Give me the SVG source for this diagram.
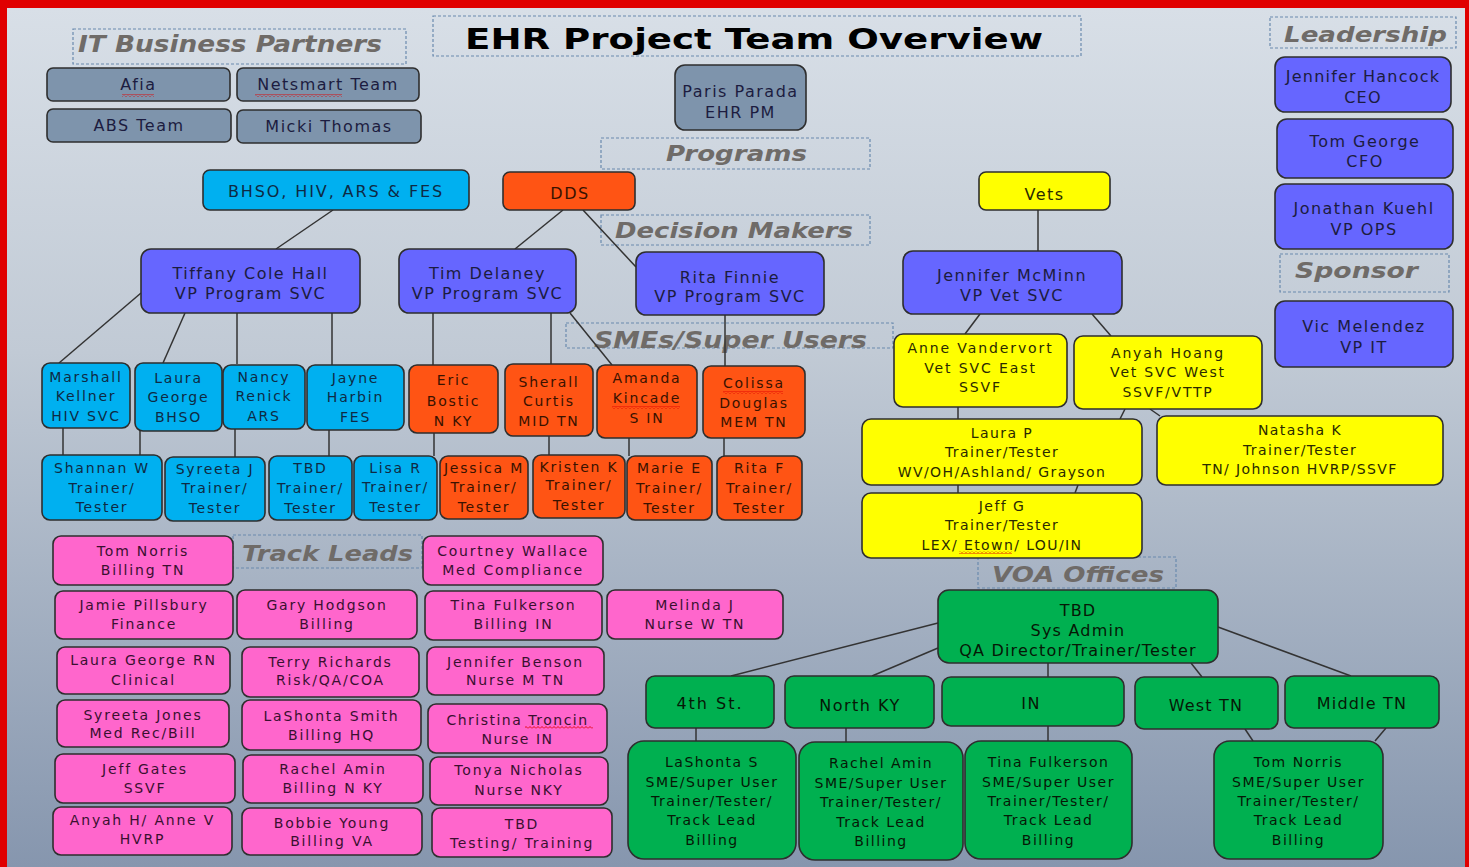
<svg xmlns="http://www.w3.org/2000/svg" width="1469" height="867" viewBox="0 0 1469 867">
<defs>
<linearGradient id="bg" x1="0" y1="0" x2="0" y2="1">
<stop offset="0" stop-color="#d8dfe7"/>
<stop offset="0.4" stop-color="#c1cad5"/>
<stop offset="1" stop-color="#8696ae"/>
</linearGradient>
<pattern id="squig" width="4" height="3" patternUnits="userSpaceOnUse">
<polyline points="0,2.5 2,0.5 4,2.5" fill="none" stroke="#e00000" stroke-width="0.9"/>
</pattern>
</defs>
<style>
.b{stroke:#2e2e2e;stroke-width:1.6}
.gray{fill:#7e94ac}
.cyan{fill:#00b0f0}
.org{fill:#ff5414}
.yel{fill:#ffff00}
.pur{fill:#6666ff}
.pink{fill:#ff66cc}
.grn{fill:#00b050}
.dash{fill:none;stroke:#6a8aae;stroke-width:1.2;stroke-dasharray:3 2}
.sec{font-family:"DejaVu Sans",Verdana,sans-serif;font-weight:bold;font-style:italic;fill:#6f6b68}
text{font-family:"DejaVu Sans",Verdana,sans-serif;text-anchor:middle}
.t16{font-size:16px;letter-spacing:1.5px}
.t14{font-size:14px;letter-spacing:1.8px}
.tg{font-size:14px;letter-spacing:1.5px}
.dk{fill:#1c1c40}
.dc{fill:#0e2a44}
.do{fill:#3a1200}
.dy{fill:#2a2a00}
.dp{fill:#3a1030}
.dg{fill:#061806}
.conn{stroke:#333;stroke-width:1.5;fill:none}
</style>
<rect x="0" y="0" width="1469" height="867" fill="#e00000"/>
<rect x="7" y="8" width="1458" height="859" fill="url(#bg)"/>

<g id="labels">
<rect class="dash" x="433" y="16" width="648" height="40"/>
<text x="465" y="49" style="text-anchor:start;font-family:'DejaVu Sans',Verdana,sans-serif;font-weight:bold;font-size:29px;fill:#000" textLength="578" lengthAdjust="spacingAndGlyphs">EHR Project Team Overview</text>
<rect class="dash" x="73" y="29" width="333" height="35"/>
<text class="sec" x="78" y="52" style="text-anchor:start;font-size:23px" textLength="304" lengthAdjust="spacingAndGlyphs">IT Business Partners</text>
<rect class="dash" x="601" y="138" width="269" height="31"/>
<text class="sec" x="666" y="161" style="text-anchor:start;font-size:22px" textLength="141" lengthAdjust="spacingAndGlyphs">Programs</text>
<rect class="dash" x="601" y="215" width="269" height="30"/>
<text class="sec" x="615" y="238" style="text-anchor:start;font-size:22px" textLength="238" lengthAdjust="spacingAndGlyphs">Decision Makers</text>
<rect class="dash" x="1270" y="17" width="186" height="31"/>
<text class="sec" x="1284" y="42" style="text-anchor:start;font-size:22px" textLength="163" lengthAdjust="spacingAndGlyphs">Leadership</text>
<rect class="dash" x="1280" y="254" width="169" height="38"/>
<text class="sec" x="1295" y="278" style="text-anchor:start;font-size:22px" textLength="123" lengthAdjust="spacingAndGlyphs">Sponsor</text>
<rect class="dash" x="566" y="323" width="327" height="25"/>
<text class="sec" x="594" y="348" style="text-anchor:start;font-size:23px" textLength="273" lengthAdjust="spacingAndGlyphs">SMEs/Super Users</text>
<rect class="dash" x="233" y="535" width="189" height="33"/>
<text class="sec" x="242" y="561" style="text-anchor:start;font-size:22px" textLength="171" lengthAdjust="spacingAndGlyphs">Track Leads</text>
<rect class="dash" x="978" y="557" width="198" height="31"/>
<text class="sec" x="992" y="582" style="text-anchor:start;font-size:22px" textLength="172" lengthAdjust="spacingAndGlyphs">VOA Offices</text>
</g>

<g id="connectors" class="conn">
<path d="M333,210 L276,249"/>
<path d="M141,293 L59,363"/>
<path d="M185,313 L163,363"/>
<path d="M237,313 L237,364"/>
<path d="M332,313 L332,365"/>
<path d="M63,428 L63,455"/>
<path d="M140,431 L140,455"/>
<path d="M235,429 L235,457"/>
<path d="M329,430 L329,456"/>
<path d="M563,210 L515,249"/>
<path d="M583,210 L636,267"/>
<path d="M433,313 L433,365"/>
<path d="M551,313 L551,364"/>
<path d="M570,313 L612,365"/>
<path d="M725,315 L725,366"/>
<path d="M434,433 L434,456"/>
<path d="M549,436 L549,455"/>
<path d="M629,438 L629,456"/>
<path d="M724,438 L724,456"/>
<path d="M1038,210 L1038,251"/>
<path d="M980,314 L965,334"/>
<path d="M1092,314 L1111,336"/>
<path d="M958,407 L958,419"/>
<path d="M1125,409 L1120,419"/>
<path d="M1150,409 L1160,416"/>
<path d="M958,485 L958,493"/>
<path d="M1078,485 L1075,493"/>
<path d="M938,623 L731,676"/>
<path d="M938,648 L872,676"/>
<path d="M1048,663 L1048,677"/>
<path d="M1191,663 L1202,677"/>
<path d="M1218,627 L1351,676"/>
<path d="M696,728 L696,741"/>
<path d="M846,728 L846,742"/>
<path d="M1048,726 L1048,741"/>
<path d="M1245,729 L1253,741"/>
<path d="M1386,728 L1375,741"/>
</g>

<g id="afia"><rect class="b gray" x="47" y="68" width="183" height="33" rx="6"/><text class="t16 dk" x="138.5" y="90">Afia</text></g>
<g id="netsmart"><rect class="b gray" x="237" y="68" width="182" height="33" rx="6"/><text class="t16 dk" x="328" y="90">Netsmart Team</text></g>
<g id="abs"><rect class="b gray" x="47" y="109" width="184" height="33" rx="6"/><text class="t16 dk" x="139" y="131">ABS Team</text></g>
<g id="micki"><rect class="b gray" x="237" y="110" width="184" height="33" rx="6"/><text class="t16 dk" x="329" y="132">Micki Thomas</text></g>
<g id="paris"><rect class="b gray" x="675" y="65" width="131" height="65" rx="10"/><text class="t16 dk" x="740.5" y="97">Paris Parada<tspan x="740.5" y="118">EHR PM</tspan></text></g>

<g id="bhso"><rect class="b cyan" x="203" y="170" width="266" height="40" rx="7"/><text class="t16 dc" x="336" y="197" style="letter-spacing:1.9px">BHSO, HIV, ARS &amp; FES</text></g>
<g id="dds"><rect class="b org" x="503" y="172" width="132" height="38" rx="7"/><text class="t16 do" x="570" y="198.5">DDS</text></g>
<g id="vets"><rect class="b yel" x="979" y="172" width="131" height="38" rx="7"/><text class="t16 dy" x="1044.5" y="200">Vets</text></g>

<g id="tiffany"><rect class="b pur" x="141" y="249" width="219" height="64" rx="10"/><text class="t16 dk" x="250.5" y="279">Tiffany Cole Hall<tspan x="250.5" y="299">VP Program SVC</tspan></text></g>
<g id="tim"><rect class="b pur" x="399" y="249" width="177" height="64" rx="10"/><text class="t16 dk" x="487.5" y="279">Tim Delaney<tspan x="487.5" y="299">VP Program SVC</tspan></text></g>
<g id="rita"><rect class="b pur" x="636" y="252" width="188" height="63" rx="10"/><text class="t16 dk" x="730" y="283">Rita Finnie<tspan x="730" y="302">VP Program SVC</tspan></text></g>
<g id="mcminn"><rect class="b pur" x="903" y="251" width="219" height="63" rx="10"/><text class="t16 dk" x="1012" y="281">Jennifer McMinn<tspan x="1012" y="301">VP Vet SVC</tspan></text></g>
<g id="hancock"><rect class="b pur" x="1275" y="57" width="176" height="55" rx="10"/><text class="t16 dk" x="1363" y="82" style="letter-spacing:1.2px">Jennifer Hancock<tspan x="1363" y="103">CEO</tspan></text></g>
<g id="george"><rect class="b pur" x="1277" y="119" width="176" height="59" rx="10"/><text class="t16 dk" x="1365" y="147">Tom George<tspan x="1365" y="167">CFO</tspan></text></g>
<g id="kuehl"><rect class="b pur" x="1275" y="184" width="178" height="65" rx="10"/><text class="t16 dk" x="1364" y="214">Jonathan Kuehl<tspan x="1364" y="235">VP OPS</tspan></text></g>
<g id="melendez"><rect class="b pur" x="1275" y="301" width="178" height="66" rx="10"/><text class="t16 dk" x="1364" y="332">Vic Melendez<tspan x="1364" y="353">VP IT</tspan></text></g>

<g id="marshall"><rect class="b cyan" x="42" y="363" width="88" height="65" rx="8"/><text class="t14 dc" x="86" y="382">Marshall<tspan x="86" y="401">Kellner</tspan><tspan x="86" y="421">HIV SVC</tspan></text></g>
<g id="laurag"><rect class="b cyan" x="135" y="363" width="87" height="68" rx="8"/><text class="t14 dc" x="178.5" y="383">Laura<tspan x="178.5" y="402">George</tspan><tspan x="178.5" y="422">BHSO</tspan></text></g>
<g id="nancy"><rect class="b cyan" x="223" y="365" width="82" height="64" rx="8"/><text class="t14 dc" x="264" y="382">Nancy<tspan x="264" y="401">Renick</tspan><tspan x="264" y="421">ARS</tspan></text></g>
<g id="jayne"><rect class="b cyan" x="307" y="365" width="97" height="65" rx="8"/><text class="t14 dc" x="355.5" y="383">Jayne<tspan x="355.5" y="402">Harbin</tspan><tspan x="355.5" y="422">FES</tspan></text></g>
<g id="shannan"><rect class="b cyan" x="42" y="455" width="120" height="65" rx="8"/><text class="t14 dc" x="102" y="473">Shannan W<tspan x="102" y="493">Trainer/</tspan><tspan x="102" y="512">Tester</tspan></text></g>
<g id="syreetaj"><rect class="b cyan" x="165" y="457" width="100" height="64" rx="8"/><text class="t14 dc" x="215" y="474">Syreeta J<tspan x="215" y="493">Trainer/</tspan><tspan x="215" y="513">Tester</tspan></text></g>
<g id="tbdcyan"><rect class="b cyan" x="269" y="456" width="83" height="64" rx="8"/><text class="t14 dc" x="310.5" y="473">TBD<tspan x="310.5" y="493">Trainer/</tspan><tspan x="310.5" y="513">Tester</tspan></text></g>
<g id="lisa"><rect class="b cyan" x="354" y="456" width="83" height="64" rx="8"/><text class="t14 dc" x="395.5" y="473">Lisa R<tspan x="395.5" y="492">Trainer/</tspan><tspan x="395.5" y="512">Tester</tspan></text></g>

<g id="eric"><rect class="b org" x="409" y="365" width="89" height="68" rx="8"/><text class="t14 do" x="453.5" y="385">Eric<tspan x="453.5" y="406">Bostic</tspan><tspan x="453.5" y="426">N KY</tspan></text></g>
<g id="sherall"><rect class="b org" x="505" y="364" width="88" height="72" rx="8"/><text class="t14 do" x="549" y="387">Sherall<tspan x="549" y="406">Curtis</tspan><tspan x="549" y="426">MID TN</tspan></text></g>
<g id="amanda"><rect class="b org" x="597" y="365" width="100" height="73" rx="8"/><text class="t14 do" x="647" y="383">Amanda<tspan x="647" y="403">Kincade</tspan><tspan x="647" y="423">S IN</tspan></text></g>
<g id="colissa"><rect class="b org" x="703" y="366" width="102" height="72" rx="8"/><text class="t14 do" x="754" y="388">Colissa<tspan x="754" y="408">Douglas</tspan><tspan x="754" y="427">MEM TN</tspan></text></g>
<g id="jessica"><rect class="b org" x="440" y="456" width="88" height="63" rx="8"/><text class="t14 do" x="484" y="473">Jessica M<tspan x="484" y="492">Trainer/</tspan><tspan x="484" y="512">Tester</tspan></text></g>
<g id="kristen"><rect class="b org" x="533" y="455" width="92" height="63" rx="8"/><text class="t14 do" x="579" y="472">Kristen K<tspan x="579" y="490">Trainer/</tspan><tspan x="579" y="510">Tester</tspan></text></g>
<g id="marie"><rect class="b org" x="627" y="456" width="85" height="64" rx="8"/><text class="t14 do" x="669.5" y="473">Marie E<tspan x="669.5" y="493">Trainer/</tspan><tspan x="669.5" y="513">Tester</tspan></text></g>
<g id="ritaf"><rect class="b org" x="717" y="456" width="85" height="64" rx="8"/><text class="t14 do" x="759.5" y="473">Rita F<tspan x="759.5" y="493">Trainer/</tspan><tspan x="759.5" y="513">Tester</tspan></text></g>

<g id="anne"><rect class="b yel" x="894" y="334" width="173" height="73" rx="9"/><text class="t14 dy" x="980.5" y="353" style="letter-spacing:1.9px">Anne Vandervort<tspan x="980.5" y="373">Vet SVC East</tspan><tspan x="980.5" y="392">SSVF</tspan></text></g>
<g id="anyah"><rect class="b yel" x="1074" y="336" width="188" height="73" rx="9"/><text class="t14 dy" x="1168" y="358">Anyah Hoang<tspan x="1168" y="377">Vet SVC West</tspan><tspan x="1168" y="397">SSVF/VTTP</tspan></text></g>
<g id="laurap"><rect class="b yel" x="862" y="419" width="280" height="66" rx="9"/><text class="t14 dy" x="1002" y="438" style="letter-spacing:1.4px">Laura P<tspan x="1002" y="457">Trainer/Tester</tspan><tspan x="1002" y="477">WV/OH/Ashland/  Grayson</tspan></text></g>
<g id="natasha"><rect class="b yel" x="1157" y="416" width="286" height="69" rx="9"/><text class="t14 dy" x="1300" y="435" style="letter-spacing:1.4px">Natasha K<tspan x="1300" y="455">Trainer/Tester</tspan><tspan x="1300" y="474">TN/ Johnson HVRP/SSVF</tspan></text></g>
<g id="jeffg"><rect class="b yel" x="862" y="493" width="280" height="65" rx="9"/><text class="t14 dy" x="1002" y="511" style="letter-spacing:1.4px">Jeff G<tspan x="1002" y="530">Trainer/Tester</tspan><tspan x="1002" y="550">LEX/ Etown/ LOU/IN</tspan></text></g>

<g id="tomnorrisp"><rect class="b pink" x="53" y="536" width="180" height="49" rx="8"/><text class="t14 dp" x="143" y="556">Tom Norris<tspan x="143" y="575">Billing TN</tspan></text></g>
<g id="courtney"><rect class="b pink" x="423" y="536" width="180" height="49" rx="8"/><text class="t14 dp" x="513" y="556">Courtney Wallace<tspan x="513" y="574.5">Med Compliance</tspan></text></g>
<g id="jamie"><rect class="b pink" x="55" y="591" width="178" height="48" rx="8"/><text class="t14 dp" x="144" y="610">Jamie Pillsbury<tspan x="144" y="629">Finance</tspan></text></g>
<g id="gary"><rect class="b pink" x="237" y="590" width="180" height="49" rx="8"/><text class="t14 dp" x="327" y="610">Gary Hodgson<tspan x="327" y="629">Billing</tspan></text></g>
<g id="tinap"><rect class="b pink" x="425" y="591" width="177" height="49" rx="8"/><text class="t14 dp" x="513.5" y="610">Tina Fulkerson<tspan x="513.5" y="629">Billing IN</tspan></text></g>
<g id="melinda"><rect class="b pink" x="607" y="590" width="176" height="49" rx="8"/><text class="t14 dp" x="695" y="610">Melinda J<tspan x="695" y="629">Nurse W TN</tspan></text></g>
<g id="laurarn"><rect class="b pink" x="57" y="647" width="173" height="47" rx="8"/><text class="t14 dp" x="143.5" y="665">Laura George RN<tspan x="143.5" y="685">Clinical</tspan></text></g>
<g id="terry"><rect class="b pink" x="242" y="647" width="177" height="50" rx="8"/><text class="t14 dp" x="330.5" y="667">Terry Richards<tspan x="330.5" y="685">Risk/QA/COA</tspan></text></g>
<g id="benson"><rect class="b pink" x="427" y="647" width="177" height="48" rx="8"/><text class="t14 dp" x="515.5" y="667">Jennifer Benson<tspan x="515.5" y="685">Nurse M TN</tspan></text></g>
<g id="syreetajones"><rect class="b pink" x="57" y="700" width="172" height="47" rx="8"/><text class="t14 dp" x="143" y="719.5">Syreeta Jones<tspan x="143" y="738">Med Rec/Bill</tspan></text></g>
<g id="lashontasmith"><rect class="b pink" x="242" y="700" width="179" height="50" rx="8"/><text class="t14 dp" x="331.5" y="721">LaShonta Smith<tspan x="331.5" y="740">Billing HQ</tspan></text></g>
<g id="christina"><rect class="b pink" x="428" y="704" width="179" height="49" rx="8"/><text class="t14 dp" x="517.5" y="724.5" style="letter-spacing:1.5px">Christina Troncin<tspan x="517.5" y="743.5">Nurse IN</tspan></text></g>
<g id="jeffgates"><rect class="b pink" x="55" y="754" width="180" height="49" rx="8"/><text class="t14 dp" x="145" y="774">Jeff Gates<tspan x="145" y="792.5">SSVF</tspan></text></g>
<g id="rachelp"><rect class="b pink" x="243" y="755" width="180" height="48" rx="8"/><text class="t14 dp" x="333" y="774">Rachel Amin<tspan x="333" y="793">Billing N KY</tspan></text></g>
<g id="tonya"><rect class="b pink" x="430" y="757" width="178" height="48" rx="8"/><text class="t14 dp" x="519" y="775">Tonya Nicholas<tspan x="519" y="794.5">Nurse NKY</tspan></text></g>
<g id="anyahanne"><rect class="b pink" x="53" y="807" width="179" height="48" rx="8"/><text class="t14 dp" x="142.5" y="825">Anyah H/  Anne V<tspan x="142.5" y="843.5">HVRP</tspan></text></g>
<g id="bobbie"><rect class="b pink" x="242" y="808" width="180" height="47" rx="8"/><text class="t14 dp" x="332" y="827.5">Bobbie Young<tspan x="332" y="846">Billing VA</tspan></text></g>
<g id="tbdpink"><rect class="b pink" x="432" y="808" width="180" height="49" rx="8"/><text class="t14 dp" x="522" y="828.5">TBD<tspan x="522" y="848">Testing/ Training</tspan></text></g>

<g id="sysadmin"><rect class="b grn" x="938" y="590" width="280" height="73" rx="11"/><text class="dg" x="1078" y="616" style="font-size:16px;letter-spacing:1.2px">TBD<tspan x="1078" y="636">Sys Admin</tspan><tspan x="1078" y="656">QA Director/Trainer/Tester</tspan></text></g>
<g id="fourth"><rect class="b grn" x="646" y="676" width="128" height="52" rx="9"/><text class="dg" x="710" y="709" style="font-size:16px;letter-spacing:2px">4th St.</text></g>
<g id="northky"><rect class="b grn" x="785" y="676" width="149" height="52" rx="9"/><text class="dg" x="860" y="711" style="font-size:16px;letter-spacing:1.5px">North KY</text></g>
<g id="in"><rect class="b grn" x="942" y="677" width="182" height="49" rx="9"/><text class="dg" x="1031" y="709" style="font-size:16px;letter-spacing:1.5px">IN</text></g>
<g id="westtn"><rect class="b grn" x="1135" y="677" width="143" height="52" rx="9"/><text class="dg" x="1206" y="711" style="font-size:16px;letter-spacing:1.2px">West TN</text></g>
<g id="middletn"><rect class="b grn" x="1285" y="676" width="154" height="52" rx="9"/><text class="dg" x="1362" y="709" style="font-size:16px;letter-spacing:1.2px">Middle TN</text></g>
<g id="lashontas"><rect class="b grn" x="628" y="741" width="168" height="118" rx="16"/><text class="tg dg" x="712" y="767">LaShonta S<tspan x="712" y="787">SME/Super User</tspan><tspan x="712" y="806">Trainer/Tester/</tspan><tspan x="712" y="825">Track Lead</tspan><tspan x="712" y="844.5">Billing</tspan></text></g>
<g id="rachelg"><rect class="b grn" x="799" y="742" width="164" height="118" rx="16"/><text class="tg dg" x="881" y="768">Rachel Amin<tspan x="881" y="788">SME/Super User</tspan><tspan x="881" y="807">Trainer/Tester/</tspan><tspan x="881" y="827">Track Lead</tspan><tspan x="881" y="846">Billing</tspan></text></g>
<g id="tinag"><rect class="b grn" x="965" y="741" width="167" height="118" rx="16"/><text class="tg dg" x="1048.5" y="767">Tina Fulkerson<tspan x="1048.5" y="787">SME/Super User</tspan><tspan x="1048.5" y="806">Trainer/Tester/</tspan><tspan x="1048.5" y="825">Track Lead</tspan><tspan x="1048.5" y="844.5">Billing</tspan></text></g>
<g id="tomnorrisg"><rect class="b grn" x="1214" y="741" width="169" height="118" rx="16"/><text class="tg dg" x="1298.5" y="767">Tom Norris<tspan x="1298.5" y="787">SME/Super User</tspan><tspan x="1298.5" y="806">Trainer/Tester/</tspan><tspan x="1298.5" y="825">Track Lead</tspan><tspan x="1298.5" y="844.5">Billing</tspan></text></g>

<g id="spellcheck">
<rect x="122" y="94" width="32" height="3" fill="url(#squig)"/>
<rect x="255" y="94" width="87" height="3" fill="url(#squig)"/>
<rect x="612" y="406" width="68" height="3" fill="url(#squig)"/>
<rect x="723" y="391" width="60" height="3" fill="url(#squig)"/>
<rect x="959" y="551" width="53" height="3" fill="url(#squig)"/>
<rect x="525" y="726" width="68" height="3" fill="url(#squig)"/>
</g>
</svg>
